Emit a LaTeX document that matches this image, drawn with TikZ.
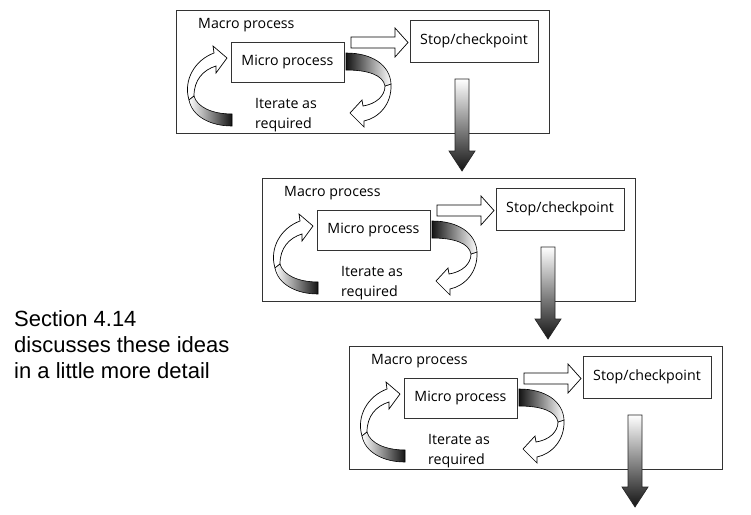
\documentclass[tikz,border=0pt]{standalone}
\usepackage{fontspec}
\setmainfont{Liberation Sans}
\newfontfamily\lblfont{Open Sans}
\begin{document}
\begin{tikzpicture}[x=1pt,y=-1pt,
  boxln/.style={draw=black!80, line width=0.9pt},
  outerbox/.style={boxln, rectangle, inner sep=0pt, minimum width=373pt, minimum height=123pt},
  innerbox/.style={boxln, rectangle, inner sep=0pt, font=\lblfont\fontsize{14.2}{20}\selectfont},
  lbl/.style={inner sep=0pt, font=\lblfont\fontsize{14.2}{20}\selectfont},
  hollow/.style={draw=black, line width=0.7pt, fill=white, line join=miter},
  band/.style={draw=black, line width=0.6pt},
  downarrow/.style={draw=black!85, line width=0.7pt, top color=white, bottom color=black!92},
  pics/block/.style={code={
    \node[outerbox] (-outer) at (363,71.5) {};
    \node[innerbox, minimum width=113pt, minimum height=40pt] (-micro) at (287.5,62) {Micro process};
    \node[innerbox, minimum width=128pt, minimum height=42pt] (-stop) at (474,41) {Stop/checkpoint};
    \node[lbl, anchor=base west] (-macro) at (198,28) {Macro process};
    \node[lbl, anchor=base west, align=left] (-iter) at (255,128) {Iterate as\\required};
    % hollow arrow to checkpoint
    \path[hollow] (351,37) -- (395,37) -- (395,28) -- (408,42.5) -- (395,57) -- (395,48) -- (351,48) -- cycle;
    % left curved arrow: outline part
    \path[hollow] (189,100) .. controls (183,80) and (195,60) .. (214,53)
       -- (213,46) -- (227,58) -- (216,73) -- (216,66)
       .. controls (203,70) and (194,80) .. (194,96) -- cycle;
    % left curved arrow: shaded band
    \path[band, left color=white, right color=black!92]
       (232,114) .. controls (212,114) and (197,107) .. (194,96)
       -- (189,100) .. controls (192,116) and (210,126) .. (232,126) -- cycle;
    % right curved arrow: outline part
    \path[hollow] (391,84) .. controls (392,105) and (378,118) .. (364,121)
       -- (364,127) -- (350,113) -- (362,100) -- (363,106)
       .. controls (376,104) and (385,96) .. (385,86) -- cycle;
    % right curved arrow: shaded band
    \path[band, left color=black!92, right color=white]
       (346,53) .. controls (372,53) and (390,65) .. (391,84)
       -- (385,86) .. controls (383,75) and (368,70) .. (346,70) -- cycle;
    % down arrow
    \path[downarrow] (455,79) -- (469,79) -- (469,151) -- (475,151) -- (462,171)
       -- (449,151) -- (455,151) -- cycle;
  }}
]
\useasboundingbox (0,0) rectangle (751,514);
\fill[white] (0,0) rectangle (751,514);
\pic (b1) at (0,0) {block};
\pic (b2) at (86,168) {block};
\pic (b3) at (173,336) {block};
\node[inner sep=0pt, anchor=base west, align=left, font=\fontsize{22}{26}\selectfont] (note) at (14,378)
  {Section 4.14\\discusses these ideas\\in a little more detail};
\end{tikzpicture}
\end{document}
